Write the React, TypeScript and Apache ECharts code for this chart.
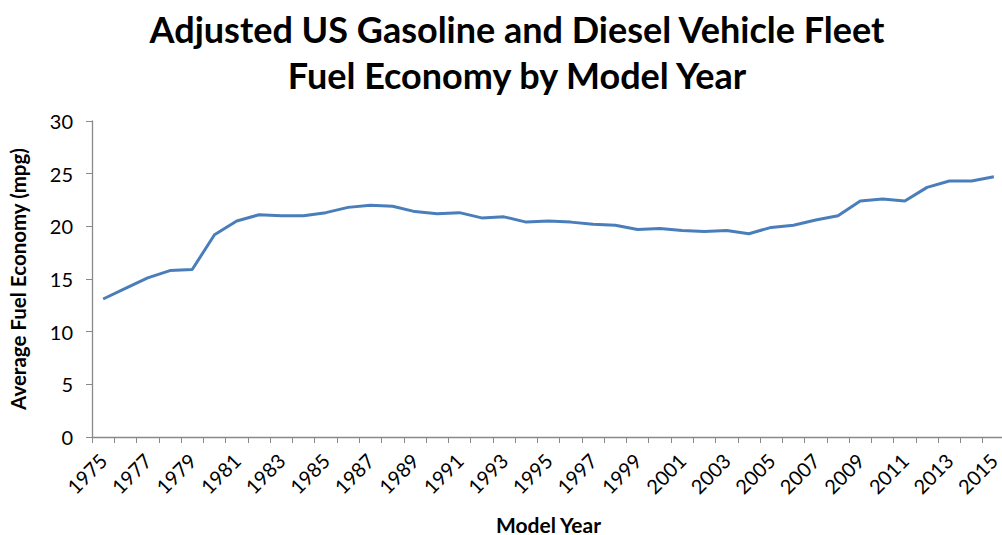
import React, { useEffect, useRef } from "react";
import * as echarts from "echarts";

const years: string[] = [];
for (let y = 1975; y <= 2015; y++) years.push(String(y));

const mpg = [
  13.1, 14.1, 15.1, 15.8, 15.9, 19.2, 20.5, 21.1, 21.0, 21.0,
  21.3, 21.8, 22.0, 21.9, 21.4, 21.2, 21.3, 20.8, 20.9, 20.4,
  20.5, 20.4, 20.2, 20.1, 19.7, 19.8, 19.6, 19.5, 19.6, 19.3,
  19.9, 20.1, 20.6, 21.0, 22.4, 22.6, 22.4, 23.7, 24.3, 24.3,
  24.7,
];

const titleLines = ["Adjusted US Gasoline and Diesel Vehicle Fleet", "Fuel Economy by Model Year"];
const FONT = "Lato, 'Open Sans', sans-serif";

export default function App() {
  const ref = useRef<HTMLDivElement>(null);
  useEffect(() => {
    if (!ref.current) return;
    const chart = echarts.init(ref.current, undefined, { renderer: "svg" });
    chart.setOption({
      animation: false,
      backgroundColor: "#ffffff",
      title: {
        text: titleLines.join("\n"),
        left: 512,
        top: 1,
        textAlign: "center",
        textStyle: {
          fontFamily: FONT,
          fontWeight: "bold",
          fontSize: 36,
          lineHeight: 46,
          color: "#000000",
        },
      },
      grid: {
        left: 92,
        right: -3,
        top: 121,
        bottom: 98,
        containLabel: false,
        outerBoundsMode: "none",
      },
      xAxis: {
        type: "category",
        data: years,
        boundaryGap: true,
        name: "Model Year",
        nameLocation: "middle",
        nameGap: 78,
        nameTextStyle: {
          fontFamily: FONT,
          fontWeight: "bold",
          fontSize: 21,
          lineHeight: 18,
          color: "#000",
        },
        axisLine: { lineStyle: { color: "#898989", width: 1.3 } },
        axisTick: { show: true, interval: 0, length: 6, lineStyle: { color: "#898989" } },
        axisLabel: {
          interval: 1,
          rotate: 45,
          margin: 20,
          fontFamily: FONT,
          fontSize: 20,
          color: "#000",
        },
        splitLine: { show: false },
      },
      yAxis: {
        type: "value",
        min: 0,
        max: 30,
        interval: 5,
        name: "Average Fuel Economy (mpg)",
        nameLocation: "middle",
        nameGap: 64,
        nameRotate: 90,
        nameTextStyle: { fontFamily: FONT, fontWeight: "bold", fontSize: 20.5, color: "#000" },
        axisLine: { show: true, lineStyle: { color: "#898989", width: 1.3 } },
        axisTick: { show: true, length: 6, lineStyle: { color: "#898989" } },
        axisLabel: { margin: 19, fontFamily: FONT, fontSize: 20, color: "#000" },
        splitLine: { show: false },
      },
      series: [
        {
          type: "line",
          data: mpg,
          symbol: "none",
          lineStyle: { color: "#4a7ebb", width: 3 },
        },
      ],
    });
    return () => chart.dispose();
  }, []);
  return (
    <div
      ref={ref}
      style={{ position: "absolute", left: 0, top: 0, width: 1002, height: 535 }}
    />
  );
}
